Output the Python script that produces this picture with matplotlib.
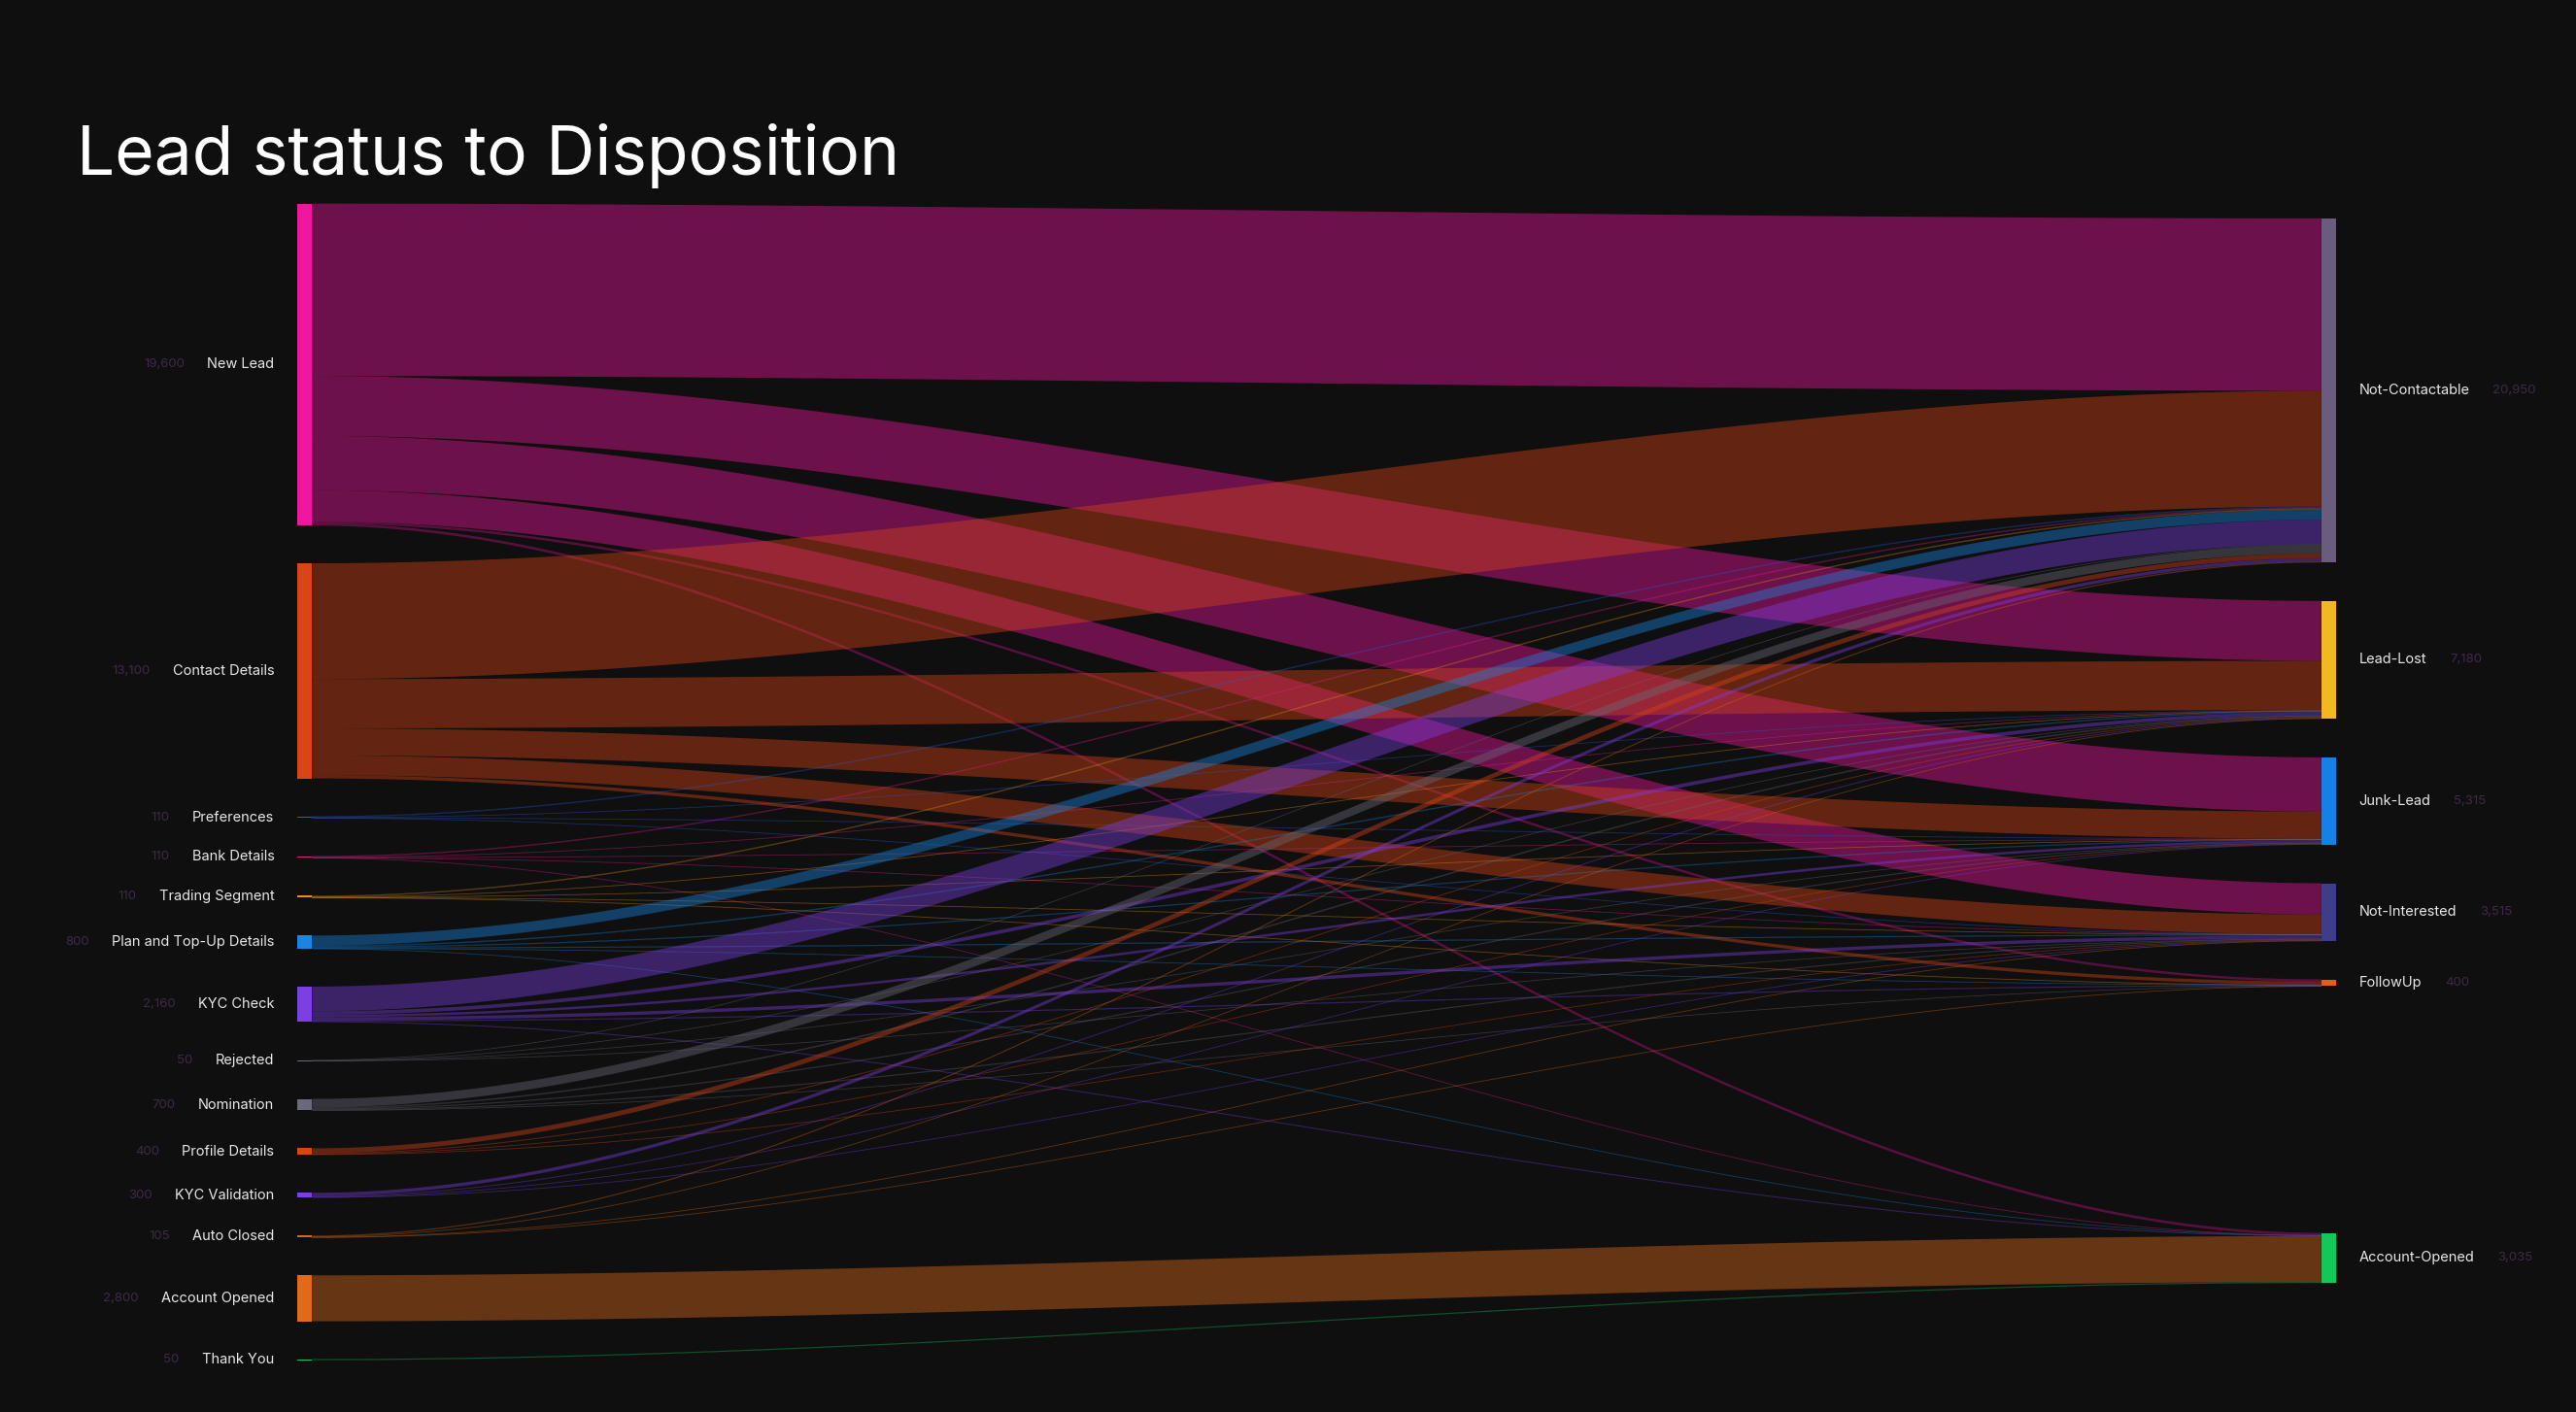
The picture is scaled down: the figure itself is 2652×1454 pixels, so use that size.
import matplotlib
matplotlib.use("Agg")
import matplotlib.pyplot as plt
import numpy as np
from matplotlib.patches import Rectangle, Polygon

# ---- data ----
sources = ["New Lead", "Contact Details", "Preferences", "Bank Details", "Trading Segment",
           "Plan and Top-Up Details", "KYC Check", "Rejected", "Nomination", "Profile Details",
           "KYC Validation", "Auto Closed", "Account Opened", "Thank You"]
targets = ["Not-Contactable", "Lead-Lost", "Junk-Lead", "Not-Interested", "FollowUp", "Account-Opened"]
# flows[source] = values to each target (same order as targets)
flows = {
    "New Lead":                [10500, 3650, 3300, 1900, 120, 130],
    "Contact Details":         [7050, 3000, 1650, 1200, 200, 0],
    "Preferences":             [60, 20, 20, 10, 0, 0],
    "Bank Details":            [60, 20, 15, 10, 0, 5],
    "Trading Segment":         [60, 20, 15, 10, 5, 0],
    "Plan and Top-Up Details": [620, 60, 50, 50, 10, 10],
    "KYC Check":               [1500, 220, 150, 200, 50, 40],
    "Rejected":                [30, 10, 5, 5, 0, 0],
    "Nomination":              [520, 70, 50, 50, 10, 0],
    "Profile Details":         [300, 40, 30, 30, 0, 0],
    "KYC Validation":          [200, 40, 30, 30, 0, 0],
    "Auto Closed":             [50, 30, 0, 20, 5, 0],
    "Account Opened":          [0, 0, 0, 0, 0, 2800],
    "Thank You":               [0, 0, 0, 0, 0, 50],
}
src_colors = ["#f0169f", "#d84516", "#2a5ad8", "#e0208f", "#e8901a", "#1a84e0", "#7b3fe4",
              "#6a6a7a", "#6a6a7a", "#d84516", "#7b3fe4", "#d86a16", "#e06a1a", "#12c85a"]
tgt_colors = ["#6a5c7c", "#f2b81f", "#1580e6", "#3d3d8a", "#e0601a", "#12c85a"]

# ---- layout (display coordinates of reference, 1568 x 860) ----
BG = "#0f0f0f"
W, H = 1568, 860
scale = 0.01
gapL, gapR = 23.1, 23.5
xL0, xL1 = 181, 190
xR0, xR1 = 1413, 1422

fig = plt.figure(figsize=(26.52, 14.54), dpi=100, facecolor=BG)
ax = fig.add_axes([0, 0, 1, 1])
ax.set_xlim(0, W); ax.set_ylim(H, 0); ax.axis("off"); ax.set_facecolor(BG)

src_tot = [sum(flows[s]) for s in sources]
tgt_tot = [sum(flows[s][j] for s in sources) for j in range(len(targets))]

ly = []
y = 124
for t in src_tot:
    h = max(t * scale, 0.6)
    ly.append((y, h))
    y += h + gapL
ry = []
y = 133
for j, t in enumerate(tgt_tot):
    h = max(t * scale, 0.6)
    if targets[j] == "Account-Opened":
        y = 751
    ry.append((y, h))
    y += h + gapR

src_off = [ly[i][0] for i in range(len(sources))]
tgt_off = [ry[j][0] for j in range(len(targets))]
xs = np.linspace(xL1, xR0, 120)
tt = (xs - xL1) / (xR0 - xL1)
sm = tt * tt * (3 - 2 * tt)
for i, s in enumerate(sources):
    for j in range(len(targets)):
        v = flows[s][j]
        if v <= 0:
            continue
        h = v * scale
        y0 = src_off[i]; y1 = tgt_off[j]
        src_off[i] += h; tgt_off[j] += h
        top = y0 + (y1 - y0) * sm
        thin = h < 1.5
        bot = top + max(h, 0.3)
        pts = np.concatenate([np.column_stack([xs, top]), np.column_stack([xs[::-1], bot[::-1]])])
        ax.add_patch(Polygon(pts, closed=True, facecolor=src_colors[i],
                             alpha=0.3 if thin else 0.42,
                             edgecolor=src_colors[i], lw=0.25 if thin else 0, zorder=2))

fs = 10.5
numc = "#3e2a48"
rend = fig.canvas.get_renderer()
for i, s in enumerate(sources):
    y, h = ly[i]
    ax.add_patch(Rectangle((xL0, y), xL1 - xL0, h, facecolor=src_colors[i], lw=0, zorder=3))
    yc = y + h / 2
    t = ax.text(167, yc, s, color="#e8e8e8", fontsize=fs, ha="right", va="center", family="Inter")
    wpx = t.get_window_extent(renderer=rend).width * W / fig.bbox.width
    ax.text(167 - wpx - 14, yc, f"{src_tot[i]:,}", color=numc, fontsize=fs - 1, ha="right",
            va="center", family="Inter")
for j, s in enumerate(targets):
    y, h = ry[j]
    ax.add_patch(Rectangle((xR0, y), xR1 - xR0, h, facecolor=tgt_colors[j], lw=0, zorder=3))
    yc = y + h / 2
    t = ax.text(1436, yc, s, color="#e8e8e8", fontsize=fs, ha="left", va="center", family="Inter")
    wpx = t.get_window_extent(renderer=rend).width * W / fig.bbox.width
    ax.text(1436 + wpx + 14, yc, f"{tgt_tot[j]:,}", color=numc, fontsize=fs - 1, ha="left",
            va="center", family="Inter")

ax.text(47, 95, "Lead status to Disposition", color="white", fontsize=50, ha="left",
        va="center", family="Inter")

fig.savefig("out.png", dpi=100, facecolor=BG)
